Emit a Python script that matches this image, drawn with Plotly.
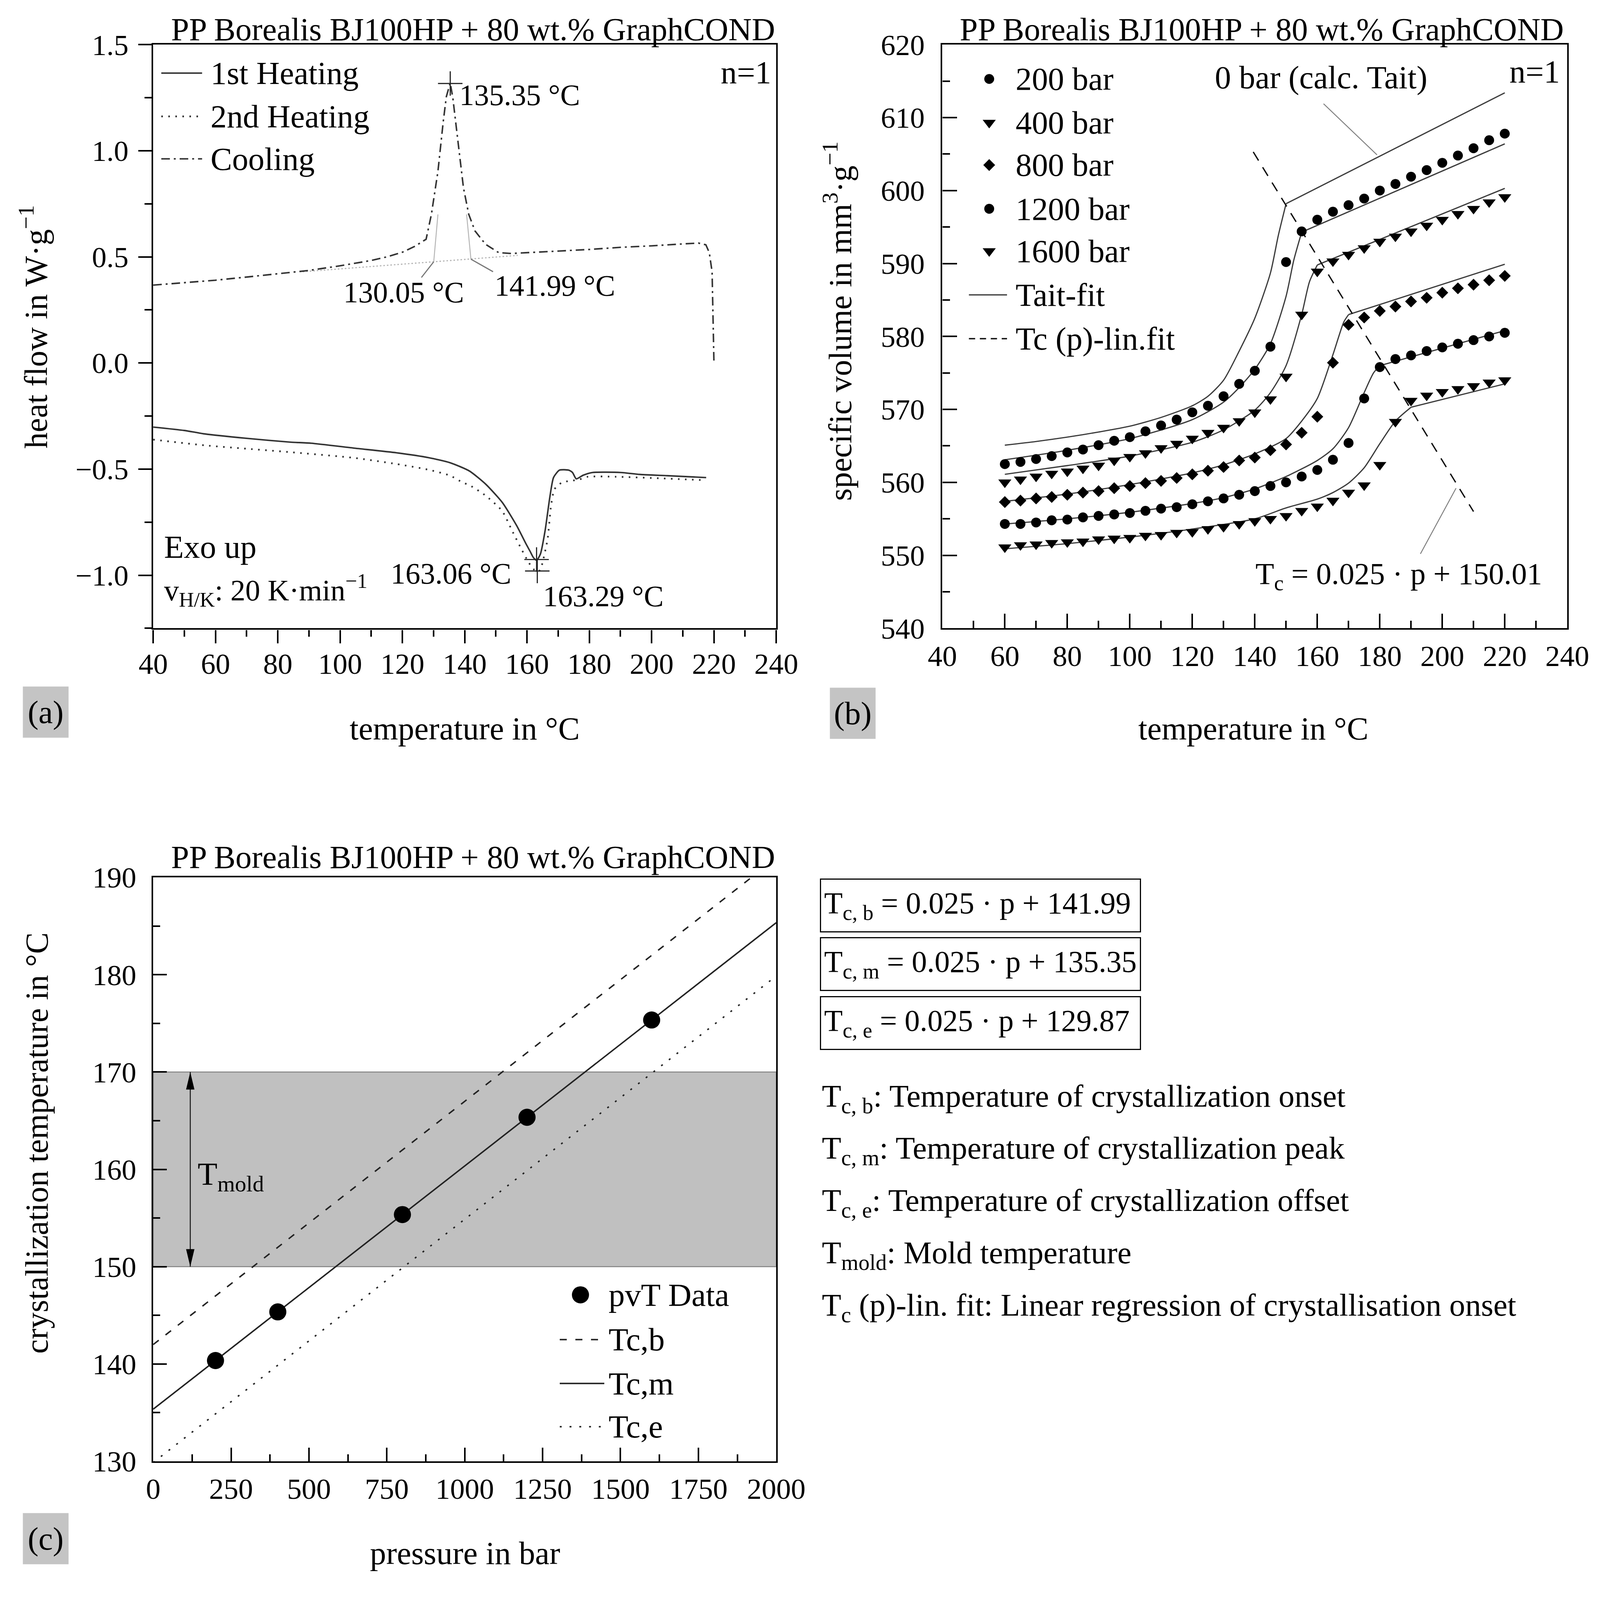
import plotly.graph_objects as go

# ===================== DATA =====================
# ---- Panel (a): DSC heat flow (W/g) vs temperature (°C) ----
heat1_T = [40, 50, 56.5, 70, 84, 90.7, 104.4, 118.1, 128.4, 135.3, 141.5, 146.8, 152.1, 156.7, 159.7, 161.0,
           162.0, 163.06, 164.3, 165.8, 167.3, 168.5, 170.4, 173.4, 174.6, 175.8, 178.0, 181.0, 190.1, 196.2,
           205.0, 217.5]
heat1_v = [-0.302, -0.318, -0.334, -0.355, -0.373, -0.378, -0.401, -0.423, -0.446, -0.470, -0.509, -0.572,
           -0.658, -0.767, -0.853, -0.888, -0.916, -0.930, -0.900, -0.790, -0.634, -0.540, -0.505, -0.505,
           -0.516, -0.546, -0.529, -0.516, -0.516, -0.525, -0.531, -0.540]

heat2_T = [40, 56.5, 70, 83.9, 104.4, 118.1, 128.4, 135.2, 139.2, 141.8, 146.8, 152.0, 155.2, 158.2, 160.5,
           162.0, 163.29, 164.3, 165.0, 166.6, 167.7, 168.8, 171.1, 173.5, 175.7, 177.0, 179.5, 188.6, 203.8,
           216.7]
heat2_v = [-0.361, -0.388, -0.404, -0.420, -0.447, -0.476, -0.503, -0.530, -0.562, -0.578, -0.626, -0.697,
           -0.790, -0.877, -0.939, -0.970, -0.985, -0.975, -0.939, -0.830, -0.673, -0.595, -0.564, -0.556,
           -0.552, -0.548, -0.536, -0.536, -0.544, -0.552]

cool_T = [40, 50, 60, 70, 80, 90, 100, 110, 115, 120, 124, 127.6, 129.3, 131.4, 133.1, 134.1, 135.35, 136.2,
          137.7, 139.6, 141.3, 143.3, 146.7, 150.9, 155, 160, 170, 180, 190, 200, 210, 215, 217.4, 218.5,
          219.4, 219.7, 220]
cool_v = [0.367, 0.378, 0.390, 0.405, 0.420, 0.436, 0.458, 0.483, 0.500, 0.522, 0.550, 0.583, 0.700, 0.903,
          1.137, 1.255, 1.320, 1.247, 1.060, 0.825, 0.700, 0.622, 0.559, 0.520, 0.516, 0.520, 0.527, 0.535,
          0.545, 0.552, 0.561, 0.565, 0.557, 0.520, 0.430, 0.220, 0.000]

# evaluation helpers of the crystallization peak
baseline_T = [88, 130.05, 141.99, 157]
baseline_v = [0.430, 0.477, 0.489, 0.507]
tangent_left_T = [130.05, 131.4]
tangent_left_v = [0.477, 0.700]
tangent_right_T = [141.99, 140.6]
tangent_right_v = [0.489, 0.700]
leader_onset_T = [130.05, 126.1]
leader_onset_v = [0.477, 0.403]
leader_offset_T = [141.99, 149.1]
leader_offset_v = [0.489, 0.430]
peak_T = [135.35, 163.06, 163.29]
peak_v = [1.317, -0.926, -0.980]

# ---- Panel (b): pvT specific volume (mm^3/g) ----
pvt_T = [60, 65, 70, 75, 80, 85, 90, 95, 100, 105, 110, 115, 120, 125, 130, 135, 140, 145, 150, 155, 160,
         165, 170, 175, 180, 185, 190, 195, 200, 205, 210, 215, 220]
v_200 = [562.5, 562.8, 563.2, 563.6, 564.1, 564.5, 565.1, 565.7, 566.2, 567.0, 567.8, 568.6, 569.6, 570.5,
         571.8, 573.5, 575.3, 578.6, 590.2, 594.4, 596.0, 597.1, 598.0, 598.9, 600.0, 600.9, 601.9, 602.8,
         603.8, 604.8, 605.8, 606.9, 607.8]
v_400 = [560.0, 560.4, 560.8, 561.2, 561.5, 561.9, 562.3, 563.0, 563.5, 564.0, 564.7, 565.3, 566.0, 566.8,
         567.5, 568.4, 569.6, 571.4, 574.5, 583.0, 588.9, 590.3, 591.2, 592.1, 593.0, 593.7, 594.4, 595.2,
         596.0, 596.8, 597.5, 598.4, 599.1]
v_800 = [557.3, 557.5, 557.8, 558.0, 558.3, 558.6, 558.8, 559.2, 559.5, 559.9, 560.2, 560.6, 561.1, 561.6,
         562.1, 563.0, 563.4, 564.4, 565.2, 566.8, 569.0, 576.4, 581.6, 582.6, 583.5, 584.1, 584.8, 585.3,
         586.0, 586.6, 587.1, 587.7, 588.3]
v_1200 = [554.3, 554.3, 554.5, 554.8, 554.9, 555.2, 555.4, 555.6, 555.8, 556.1, 556.4, 556.6, 557.0, 557.4,
          557.8, 558.3, 558.8, 559.5, 560.0, 560.8, 561.7, 563.1, 565.4, 571.5, 575.8, 576.9, 577.4, 578.0,
          578.5, 579.0, 579.5, 580.0, 580.5]
v_1600 = [551.1, 551.4, 551.5, 551.7, 551.8, 551.9, 552.2, 552.3, 552.4, 552.7, 552.8, 553.1, 553.2, 553.6,
          553.9, 554.3, 554.7, 555.0, 555.4, 556.1, 556.7, 557.5, 558.6, 559.6, 562.4, 568.3, 571.2, 571.9,
          572.4, 572.8, 573.2, 573.7, 574.0]

# Tait fits (last two points: transition kink and melt end)
tait0_T = [60, 70, 80, 90, 100, 110, 120, 125, 130, 135, 140, 145, 147.5, 150.01, 220]
tait0_v = [565.1, 565.6, 566.2, 566.9, 567.7, 568.9, 570.5, 571.8, 574.0, 578.0, 582.5, 588.7, 593.8, 598.2, 613.4]
tait200_T = [60, 80, 100, 120, 130, 135, 140, 145, 150, 152.5, 155.01, 220]
tait200_v = [563.1, 564.4, 566.0, 568.6, 571.0, 573.0, 575.5, 579.0, 585.5, 590.5, 594.3, 606.4]
tait400_T = [60, 80, 100, 120, 130, 140, 145, 150, 155, 157.5, 160.01, 220]
tait400_v = [561.1, 562.3, 563.6, 565.5, 567.2, 569.9, 572.3, 576.0, 583.0, 587.5, 589.8, 600.3]
tait800_T = [60, 80, 100, 120, 130, 140, 150, 155, 160, 165, 168.5, 170.01, 220]
tait800_v = [557.4, 558.4, 559.7, 561.3, 562.4, 563.9, 566.0, 568.4, 571.5, 577.5, 582.0, 583.0, 589.9]
tait1200_T = [60, 80, 100, 120, 130, 140, 150, 160, 165, 170, 175, 178, 180.01, 220]
tait1200_v = [554.3, 555.0, 555.9, 557.1, 557.9, 559.1, 560.8, 563.0, 564.6, 567.5, 572.3, 575.0, 576.0, 580.8]
tait1600_T = [60, 80, 100, 120, 140, 150, 160, 165, 170, 175, 180, 185, 190.01, 220]
tait1600_v = [550.9, 551.6, 552.5, 553.6, 555.0, 556.5, 557.7, 558.6, 559.9, 562.0, 565.3, 568.4, 570.3, 573.5]

tc_line_T = [139.5, 210.0]
tc_line_v = [605.3, 556.0]
leader_0bar_T = [162.0, 179.1]
leader_0bar_v = [611.9, 604.9]
leader_tc_T = [204.4, 193.0]
leader_tc_v = [559.2, 550.2]

# ---- Panel (c): crystallization temperature vs pressure ----
pvt_p = [200, 400, 800, 1200, 1600]
pvt_Tc = [140.35, 145.35, 155.35, 165.35, 175.35]
fit_slope = 0.025
fit_b, fit_m, fit_e = 141.99, 135.35, 129.87
fit_p = [0, 2000]
mold_range = [150, 170]
mold_arrow_p = 119

# ===================== LAYOUT HELPERS =====================
W, H = 4303, 4268
# the page shows the figure slightly shifted/enlarged; positions below are given in
# target picture pixels and converted to figure pixels
SX, SY, S = 1.024, 1.030, 1.027
OX, OY = 49.0, 53.0
FONT = "Liberation Serif"
FS = 85 / S        # words
NUMFS = 78 / S     # number annotations
TICKFS = 77 / S
INK = "#333333"


def fxp(X):
    return (X - OX) / SX


def fyp(Y):
    return (Y - OY) / SY


def px(X):
    return fxp(X) / W


def py(Y):
    return 1 - fyp(Y) / H


def sz(v):
    return v / S


fig = go.Figure()

# ----- panel (a) traces -----
fig.add_trace(go.Scatter(x=baseline_T, y=baseline_v, mode="lines", xaxis="x", yaxis="y",
                         line=dict(color="#b5b5b5", width=sz(3), dash="4px,5px")))
for tx, ty in [(tangent_left_T, tangent_left_v), (tangent_right_T, tangent_right_v)]:
    fig.add_trace(go.Scatter(x=tx, y=ty, mode="lines", xaxis="x", yaxis="y",
                             line=dict(color="#b5b5b5", width=sz(2.5))))
for tx, ty in [(leader_onset_T, leader_onset_v), (leader_offset_T, leader_offset_v)]:
    fig.add_trace(go.Scatter(x=tx, y=ty, mode="lines", xaxis="x", yaxis="y",
                             line=dict(color="#777777", width=sz(3))))
fig.add_trace(go.Scatter(x=heat2_T, y=heat2_v, mode="lines", xaxis="x", yaxis="y",
                         line=dict(color=INK, width=sz(4.5), dash="4px,14px", shape="spline", smoothing=0.6)))
fig.add_trace(go.Scatter(x=heat1_T, y=heat1_v, mode="lines", xaxis="x", yaxis="y",
                         line=dict(color=INK, width=sz(4), shape="spline", smoothing=0.6)))
fig.add_trace(go.Scatter(x=cool_T, y=cool_v, mode="lines", xaxis="x", yaxis="y",
                         line=dict(color=INK, width=sz(4), dash="22px,10px,5px,10px")))
fig.add_trace(go.Scatter(x=peak_T, y=peak_v, mode="markers", xaxis="x", yaxis="y",
                         marker=dict(symbol="cross-thin", size=sz(46), line=dict(color="#222222", width=sz(3)))))

# ----- panel (b) traces -----
TAIT_COL = "#3c3c3c"
for tT, tv in [(tait0_T, tait0_v), (tait200_T, tait200_v), (tait400_T, tait400_v),
               (tait800_T, tait800_v), (tait1200_T, tait1200_v), (tait1600_T, tait1600_v)]:
    k = len(tT) - 2
    fig.add_trace(go.Scatter(x=tT[:k + 1], y=tv[:k + 1], mode="lines", xaxis="x2", yaxis="y2",
                             line=dict(color=TAIT_COL, width=sz(3.2), shape="spline", smoothing=0.7)))
    fig.add_trace(go.Scatter(x=tT[k:], y=tv[k:], mode="lines", xaxis="x2", yaxis="y2",
                             line=dict(color=TAIT_COL, width=sz(3.2))))
fig.add_trace(go.Scatter(x=tc_line_T, y=tc_line_v, mode="lines", xaxis="x2", yaxis="y2",
                         line=dict(color="#111111", width=sz(3.5), dash="26px,20px")))
for tx, ty in [(leader_0bar_T, leader_0bar_v), (leader_tc_T, leader_tc_v)]:
    fig.add_trace(go.Scatter(x=tx, y=ty, mode="lines", xaxis="x2", yaxis="y2",
                             line=dict(color="#808080", width=sz(2.5))))
for vals, sym, msz in [(v_200, "circle", 26), (v_400, "triangle-down", 30), (v_800, "diamond", 24),
                       (v_1200, "circle", 26), (v_1600, "triangle-down", 30)]:
    fig.add_trace(go.Scatter(x=pvt_T, y=vals, mode="markers", xaxis="x2", yaxis="y2",
                             marker=dict(symbol=sym, size=sz(msz), color="#000000", line=dict(width=0))))

# ----- panel (c) traces -----
for icpt, dash in [(fit_b, "18px,22px"), (fit_m, "solid"), (fit_e, "5px,20px")]:
    fig.add_trace(go.Scatter(x=fit_p, y=[fit_slope * p + icpt for p in fit_p], mode="lines",
                             xaxis="x3", yaxis="y3", line=dict(color="#222222", width=sz(3.8), dash=dash)))
fig.add_trace(go.Scatter(x=pvt_p, y=pvt_Tc, mode="markers", xaxis="x3", yaxis="y3",
                         marker=dict(symbol="circle", size=sz(45), color="#000000", line=dict(width=0))))

# ===================== AXES =====================
def axis(domain, rng, dtick, minor_dtick, ticks, ticklen, minorlen, standoff, anchor, fmt=None):
    d = dict(domain=domain, range=rng, dtick=dtick, tick0=0,
             showline=True, linecolor="#000000", linewidth=sz(4.5), mirror=True,
             ticks=ticks, ticklen=sz(ticklen), tickwidth=sz(4), tickcolor="#000000",
             minor=dict(ticks=ticks, ticklen=sz(minorlen), tickwidth=sz(4), tickcolor="#000000",
                        dtick=minor_dtick, showgrid=False),
             showgrid=False, zeroline=False, anchor=anchor,
             tickfont=dict(family=FONT, size=TICKFS, color="#000000"),
             ticklabelstandoff=standoff)
    if fmt:
        d["tickformat"] = fmt
    return d


xa_dom = [px(414), px(2091)]
xb_dom = [px(2538), px(4220)]
yab_dom = [py(1691), py(121.6)]
yc_dom = [py(3931), py(2361)]

fig.update_layout(
    width=W, height=H,
    margin=dict(l=0, r=0, t=0, b=0, pad=0),
    paper_bgcolor="white", plot_bgcolor="white",
    showlegend=False,
    font=dict(family=FONT, size=FS, color="#000000"),
    xaxis=axis(xa_dom, [40, 240], 20, 10, "outside", 35, 18, -12, "y"),
    yaxis=axis(yab_dom, [-1.25, 1.5], 0.5, 0.25, "outside", 35, 18, 10, "x", fmt=".1f"),
    xaxis2=axis(xb_dom, [40, 240], 20, 10, "inside", 38, 20, 2, "y2"),
    yaxis2=axis(yab_dom, [540, 620], 10, 5, "inside", 38, 20, 26, "x2"),
    xaxis3=axis(xa_dom, [0, 2000], 250, 125, "inside", 36, 18, 2, "y3"),
    yaxis3=axis(yc_dom, [130, 190], 10, 5, "inside", 36, 18, 24, "x3"),
)

# ===================== SHAPES =====================
shapes = []
# mold temperature band (c)
shapes.append(dict(type="rect", xref="x3", yref="y3", x0=0, x1=2000, y0=mold_range[0], y1=mold_range[1],
                   fillcolor="#c0c0c0", line=dict(color="#8a8a8a", width=sz(3)), layer="below"))
# double arrow (c)
shapes.append(dict(type="line", xref="x3", yref="y3", x0=mold_arrow_p, x1=mold_arrow_p,
                   y0=mold_range[0], y1=mold_range[1], line=dict(color="#111111", width=sz(2.5))))
AH_L, AH_W = sz(46), sz(11)
shapes.append(dict(type="path", xref="x3", yref="y3", xsizemode="pixel", ysizemode="pixel",
                   xanchor=mold_arrow_p, yanchor=mold_range[1],
                   path=f"M0,0 L{-AH_W},{-AH_L} L{AH_W},{-AH_L} Z",
                   fillcolor="#000000", line=dict(width=0)))
shapes.append(dict(type="path", xref="x3", yref="y3", xsizemode="pixel", ysizemode="pixel",
                   xanchor=mold_arrow_p, yanchor=mold_range[0],
                   path=f"M0,0 L{-AH_W},{AH_L} L{AH_W},{AH_L} Z",
                   fillcolor="#000000", line=dict(width=0)))

# legend keys panel (a)
LEG_A = [(1.366, "1st Heating", "solid", 4), (1.162, "2nd Heating", "4px,14px", 4.5),
         (0.962, "Cooling", "22px,10px,5px,10px", 4)]
for yv, _, dash, lw in LEG_A:
    shapes.append(dict(type="line", xref="x", yref="y", x0=42.6, x1=55.7, y0=yv, y1=yv,
                       line=dict(color=INK, width=sz(lw), dash=dash)))

# legend keys panel (b) (same geometry as the plotly marker symbols)
r_t = sz(15)
TRI = f"M{-1.1547 * r_t},{0.5 * r_t} L{1.1547 * r_t},{0.5 * r_t} L0,{-r_t} Z"
r_d = sz(12) * 1.3
DIA = f"M{r_d},0 L0,{r_d} L{-r_d},0 L0,{-r_d} Z"
r_c = sz(13)
for yv, kind in [(615.3, "circle"), (609.3, "tri"), (603.5, "dia"), (597.5, "circle"), (591.7, "tri")]:
    if kind == "circle":
        shapes.append(dict(type="circle", xref="x2", yref="y2", xsizemode="pixel", ysizemode="pixel",
                           xanchor=55.0, yanchor=yv, x0=-r_c, x1=r_c, y0=-r_c, y1=r_c,
                           fillcolor="#000000", line=dict(width=0)))
    else:
        shapes.append(dict(type="path", xref="x2", yref="y2", xsizemode="pixel", ysizemode="pixel",
                           xanchor=55.0, yanchor=yv, path=TRI if kind == "tri" else DIA,
                           fillcolor="#000000", line=dict(width=0)))
shapes.append(dict(type="line", xref="x2", yref="y2", x0=48.5, x1=60.7, y0=585.7, y1=585.7,
                   line=dict(color=TAIT_COL, width=sz(3.2))))
shapes.append(dict(type="line", xref="x2", yref="y2", x0=48.5, x1=60.7, y0=579.7, y1=579.7,
                   line=dict(color="#111111", width=sz(3.5), dash="16px,12px")))

# legend keys panel (c)
r_cc = sz(22.5)
shapes.append(dict(type="circle", xref="x3", yref="y3", xsizemode="pixel", ysizemode="pixel",
                   xanchor=1371.5, yanchor=147.1, x0=-r_cc, x1=r_cc, y0=-r_cc, y1=r_cc,
                   fillcolor="#000000", line=dict(width=0)))
for yv, dash in [(142.5, "18px,22px"), (138.0, "solid"), (133.55, "5px,20px")]:
    shapes.append(dict(type="line", xref="x3", yref="y3", x0=1305, x1=1448, y0=yv, y1=yv,
                       line=dict(color="#222222", width=sz(3.8), dash=dash)))

fig.update_layout(shapes=shapes)

# ===================== ANNOTATIONS =====================
ann = []


def txt(text, x, y, xref="paper", yref="paper", xanchor="center", yanchor="middle", size=FS, angle=0, **kw):
    d = dict(text=text, x=x, y=y, xref=xref, yref=yref, xanchor=xanchor, yanchor=yanchor,
             showarrow=False, textangle=angle, font=dict(family=FONT, size=size, color="#000000"))
    d.update(kw)
    ann.append(d)


TITLE = "PP Borealis BJ100HP + 80 wt.% GraphCOND"
txt(TITLE, px(2090), py(80), xanchor="right")
txt(TITLE, px(4212), py(80), xanchor="right")
txt(TITLE, px(2090), py(2306), xanchor="right")

# axis titles
txt("heat flow in W·g<sup>−1</sup>", px(92), py(880), angle=-90)
txt("temperature in °C", px(1252), py(1961))
txt("specific volume in mm<sup>3</sup>·g<sup>−1</sup>", px(2256), py(865), angle=-90)
txt("temperature in °C", px(3375), py(1961))
txt("crystallization temperature in °C", px(100), py(3075), angle=-90)
txt("pressure in bar", px(1253), py(4178))

# panel labels
for lab, X0, Y0 in [("(a)", 63, 1847), ("(b)", 2235, 1850), ("(c)", 63, 4070)]:
    txt(lab, px(X0), py(Y0), xanchor="left", yanchor="top", width=sz(115), height=sz(129),
        bgcolor="#c4c4c4", borderpad=2)

# panel (a) texts
for yv, s, _, _ in LEG_A:
    txt(s, 58.1, yv, "x", "y", xanchor="left")
txt("n=1", 238.6, 1.37, "x", "y", xanchor="right")
txt("135.35 °C", 138.0, 1.263, "x", "y", xanchor="left", size=NUMFS)
txt("130.05 °C", 120.4, 0.333, "x", "y", size=NUMFS)
txt("141.99 °C", 169.0, 0.364, "x", "y", size=NUMFS)
txt("163.06 °C", 155.2, -0.992, "x", "y", xanchor="right", size=NUMFS)
txt("163.29 °C", 164.9, -1.098, "x", "y", xanchor="left", size=NUMFS)
txt("Exo up", 43.3, -0.866, "x", "y", xanchor="left")
txt("v<sub>H/K</sub>: 20 K·min<sup>−1</sup>", 43.3, -1.072, "x", "y", xanchor="left", size=FS * 0.92)

# panel (b) texts
for s, v in [("200 bar", 615.3), ("400 bar", 609.3), ("800 bar", 603.5), ("1200 bar", 597.5),
             ("1600 bar", 591.7), ("Tait-fit", 585.7), ("Tc (p)-lin.fit", 579.7)]:
    txt(s, 63.2, v, "x2", "y2", xanchor="left")
txt("0 bar (calc. Tait)", 126.9, 615.5, "x2", "y2", xanchor="left")
txt("n=1", 237.9, 616.3, "x2", "y2", xanchor="right")
txt("T<sub>c</sub> = 0.025 · p + 150.01", 139.9, 547.2, "x2", "y2", xanchor="left", size=NUMFS * 1.03)

# panel (c) texts
txt("T<sub>mold</sub>", 140, 159.3, "x3", "y3", xanchor="left")
for s, v in [("pvT Data", 147.1), ("Tc,b", 142.5), ("Tc,m", 138.0), ("Tc,e", 133.55)]:
    txt(s, 1459, v, "x3", "y3", xanchor="left")

# equation boxes
for s, Y0 in [("T<sub>c, b</sub> = 0.025 · p + 141.99", 2364),
              ("T<sub>c, m</sub> = 0.025 · p + 135.35", 2522),
              ("T<sub>c, e</sub> = 0.025 · p + 129.87", 2680)]:
    txt(s, px(2208), py(Y0), xanchor="left", yanchor="top", width=sz(822), height=sz(120), align="left",
        bordercolor="#000000", borderwidth=sz(3), borderpad=sz(8), size=80 / S)

# definitions
for s, Y in [("T<sub>c, b</sub>: Temperature of crystallization onset", 2955),
             ("T<sub>c, m</sub>: Temperature of crystallization peak", 3095),
             ("T<sub>c, e</sub>: Temperature of crystallization offset", 3235),
             ("T<sub>mold</sub>: Mold temperature", 3376),
             ("T<sub>c</sub> (p)-lin. fit: Linear regression of crystallisation onset", 3517)]:
    txt(s, px(2212), py(Y), xanchor="left", size=FS * 0.98)

fig.update_layout(annotations=ann)

fig.write_html("out.html")
